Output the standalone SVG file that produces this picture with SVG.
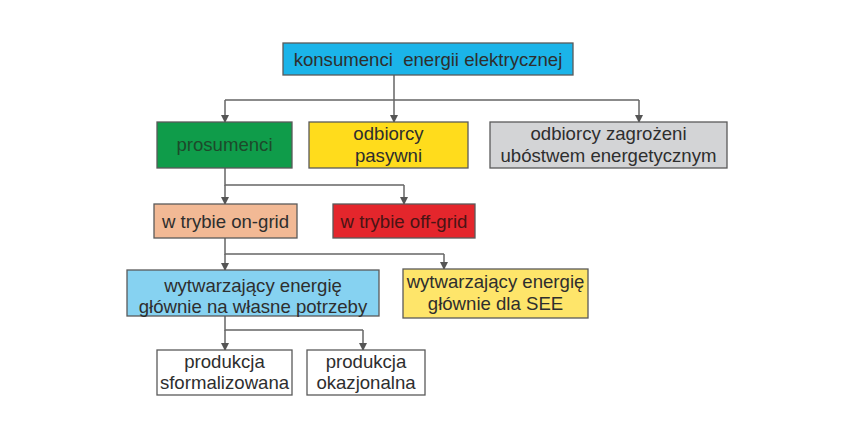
<svg xmlns="http://www.w3.org/2000/svg" width="852" height="447" viewBox="0 0 852 447">
<style>
.box{stroke:#5a5a5a;stroke-width:1.3}
.t{font-family:"Liberation Sans",Arial,sans-serif;font-size:18.6px;fill:#2e2e2e;text-anchor:middle}
.c{fill:none;stroke:#666;stroke-width:1.5}
</style>
<defs>
<marker id="ah" viewBox="0 0 8 8" refX="7" refY="4" markerWidth="8" markerHeight="8" markerUnits="userSpaceOnUse" orient="auto">
<path d="M0,0 L8,4 L0,8 z" fill="#555"/>
</marker>
</defs>
<rect width="852" height="447" fill="#fff"/>
<g id="connectors">
<path class="c" d="M394,75 V100 M225,100 H639"/>
<path class="c" d="M225,100 V122" marker-end="url(#ah)"/>
<path class="c" d="M394,100 V122" marker-end="url(#ah)"/>
<path class="c" d="M639,100 V122" marker-end="url(#ah)"/>
<path class="c" d="M225,168 V185 H404"/>
<path class="c" d="M225,185 V204" marker-end="url(#ah)"/>
<path class="c" d="M404,185 V204" marker-end="url(#ah)"/>
<path class="c" d="M225,238 V254 H444"/>
<path class="c" d="M225,254 V270" marker-end="url(#ah)"/>
<path class="c" d="M444,254 V269" marker-end="url(#ah)"/>
<path class="c" d="M225,316 V330 H363"/>
<path class="c" d="M225,330 V350" marker-end="url(#ah)"/>
<path class="c" d="M363,330 V350" marker-end="url(#ah)"/>
</g>
<g id="n_konsumenci">
<rect class="box" x="283" y="43" width="290" height="32" fill="#1bb4e9"/>
<text class="t" x="428" y="65.5" fill="#1d3340" xml:space="preserve">konsumenci  energii elektrycznej</text>
</g>
<g id="n_prosumenci">
<rect class="box" x="157" y="122" width="135" height="46" fill="#0f9c4a"/>
<text class="t" x="224.5" y="151" style="fill:#1d4a2a">prosumenci</text>
</g>
<g id="n_pasywni">
<rect class="box" x="309" y="122" width="159" height="46" fill="#ffdc1c"/>
<text class="t" x="388.5" y="140">odbiorcy</text>
<text class="t" x="388.5" y="162">pasywni</text>
</g>
<g id="n_zagrozeni">
<rect class="box" x="490" y="122" width="237" height="46" fill="#d3d4d6"/>
<text class="t" x="608.5" y="140">odbiorcy zagrożeni</text>
<text class="t" x="608.5" y="162">ubóstwem energetycznym</text>
</g>
<g id="n_ongrid">
<rect class="box" x="154" y="204" width="143" height="34" fill="#f2b995"/>
<text class="t" x="225.5" y="227.5">w trybie on-grid</text>
</g>
<g id="n_offgrid">
<rect class="box" x="333" y="204" width="142" height="34" fill="#e4262c"/>
<text class="t" x="404" y="227.5" style="fill:#4a1414">w trybie off-grid</text>
</g>
<g id="n_wlasne">
<rect class="box" x="127" y="270" width="252" height="46" fill="#86d2f1"/>
<text class="t" x="253" y="291.5">wytwarzający energię</text>
<text class="t" x="253" y="312.5">głównie na własne potrzeby</text>
</g>
<g id="n_see">
<rect class="box" x="403" y="269" width="185" height="49" fill="#fee56a"/>
<text class="t" x="495.5" y="288">wytwarzający energię</text>
<text class="t" x="495.5" y="310">głównie dla SEE</text>
</g>
<g id="n_sformalizowana">
<rect class="box" x="157" y="350" width="135" height="45" fill="#fff"/>
<text class="t" x="224.5" y="368">produkcja</text>
<text class="t" x="224.5" y="389">sformalizowana</text>
</g>
<g id="n_okazjonalna">
<rect class="box" x="307" y="350" width="118" height="45" fill="#fff"/>
<text class="t" x="366" y="368">produkcja</text>
<text class="t" x="366" y="389">okazjonalna</text>
</g>
</svg>
